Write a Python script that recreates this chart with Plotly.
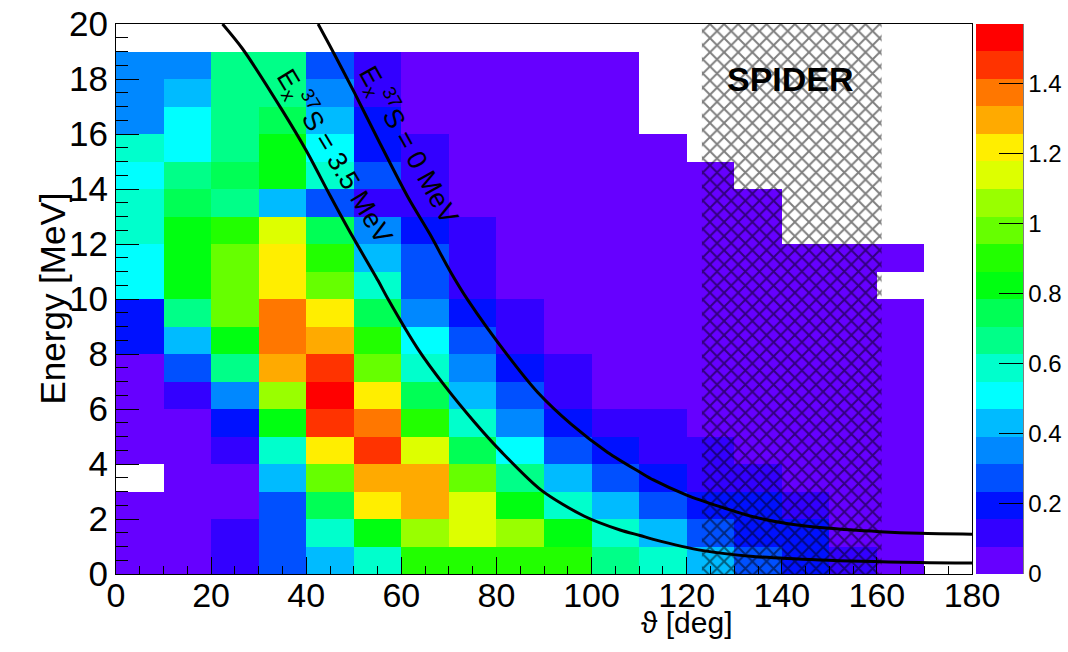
import plotly.graph_objects as go

# ---------------- data ----------------
theta_edges = [0, 10, 20, 30, 40, 50, 60, 70, 80, 90, 100, 110, 120, 130, 140, 150, 160, 170, 180]
energy_edges = [0, 1, 2, 3, 4, 5, 6, 7, 8, 9, 10, 11, 12, 13, 14, 15, 16, 17, 18, 19, 20]

# bin contents per theta bin, listed from E=0-1 MeV (bottom) to E=19-20 MeV (top); None = empty bin
th_000_010 = [0.04, 0.04, 0.04, None, 0.04, 0.04, 0.04, 0.04, 0.20, 0.20, 0.51, 0.51, 0.59, 0.59, 0.51, 0.59, 0.35, 0.35, 0.35, None]
th_010_020 = [0.04, 0.04, 0.04, 0.04, 0.04, 0.04, 0.12, 0.27, 0.43, 0.67, 0.82, 0.82, 0.82, 0.75, 0.67, 0.51, 0.51, 0.43, 0.35, None]
th_020_030 = [0.12, 0.12, 0.04, 0.04, 0.12, 0.20, 0.35, 0.67, 0.82, 0.98, 0.98, 0.98, 0.90, 0.67, 0.75, 0.67, 0.67, 0.67, 0.67, None]
th_030_040 = [0.27, 0.27, 0.27, 0.43, 0.59, 0.82, 1.06, 1.30, 1.37, 1.37, 1.22, 1.22, 1.14, 0.43, 0.82, 0.82, 0.75, 0.67, 0.67, None]
th_040_050 = [0.43, 0.59, 0.75, 0.98, 1.22, 1.45, 1.53, 1.45, 1.30, 1.22, 0.98, 0.90, 0.75, 0.27, 0.59, 0.51, 0.43, 0.35, 0.27, None]
th_050_060 = [0.59, 0.82, 1.22, 1.30, 1.45, 1.37, 1.22, 0.98, 0.90, 0.75, 0.59, 0.43, 0.35, 0.12, 0.27, 0.20, 0.20, 0.12, 0.12, None]
th_060_070 = [0.90, 1.06, 1.30, 1.30, 1.14, 0.90, 0.75, 0.59, 0.51, 0.35, 0.27, 0.27, 0.20, 0.12, 0.12, 0.12, 0.04, 0.04, 0.04, None]
th_070_080 = [0.90, 1.14, 1.14, 0.98, 0.75, 0.59, 0.43, 0.35, 0.27, 0.20, 0.12, 0.12, 0.12, 0.04, 0.04, 0.04, 0.04, 0.04, 0.04, None]
th_080_090 = [0.90, 1.06, 0.82, 0.67, 0.51, 0.35, 0.27, 0.20, 0.12, 0.12, 0.04, 0.04, 0.04, 0.04, 0.04, 0.04, 0.04, 0.04, 0.04, None]
th_090_100 = [0.90, 0.82, 0.59, 0.43, 0.27, 0.20, 0.12, 0.12, 0.04, 0.04, 0.04, 0.04, 0.04, 0.04, 0.04, 0.04, 0.04, 0.04, 0.04, None]
th_100_110 = [0.67, 0.59, 0.43, 0.27, 0.20, 0.12, 0.04, 0.04, 0.04, 0.04, 0.04, 0.04, 0.04, 0.04, 0.04, 0.04, 0.04, 0.04, 0.04, None]
th_110_120 = [0.59, 0.43, 0.27, 0.20, 0.12, 0.12, 0.04, 0.04, 0.04, 0.04, 0.04, 0.04, 0.04, 0.04, 0.04, 0.04, None, None, None, None]
th_120_130 = [0.43, 0.27, 0.20, 0.12, 0.12, 0.04, 0.04, 0.04, 0.04, 0.04, 0.04, 0.04, 0.04, 0.04, 0.04, None, None, None, None, None]
th_130_140 = [0.27, 0.20, 0.20, 0.12, 0.04, 0.04, 0.04, 0.04, 0.04, 0.04, 0.04, 0.04, 0.04, 0.04, None, None, None, None, None, None]
th_140_150 = [0.20, 0.20, 0.12, 0.04, 0.04, 0.04, 0.04, 0.04, 0.04, 0.04, 0.04, 0.04, None, None, None, None, None, None, None, None]
th_150_160 = [0.12, 0.04, 0.04, 0.04, 0.04, 0.04, 0.04, 0.04, 0.04, 0.04, 0.04, 0.04, None, None, None, None, None, None, None, None]
th_160_170 = [0.04, 0.04, 0.04, 0.04, 0.04, 0.04, 0.04, 0.04, 0.04, 0.04, None, 0.04, None, None, None, None, None, None, None, None]
th_170_180 = [None, None, None, None, None, None, None, None, None, None, None, None, None, None, None, None, None, None, None, None]

theta_columns = [th_000_010, th_010_020, th_020_030, th_030_040, th_040_050, th_050_060,
                 th_060_070, th_070_080, th_080_090, th_090_100, th_100_110, th_110_120,
                 th_120_130, th_130_140, th_140_150, th_150_160, th_160_170, th_170_180]

z_max = 1.571
cbar_ticks = [0, 0.2, 0.4, 0.6, 0.8, 1.0, 1.2, 1.4]
cbar_ticktext = ["0", "0.2", "0.4", "0.6", "0.8", "1", "1.2", "1.4"]

# 20-level rainbow palette (bottom to top)
palette = ["#6600ff", "#3300ff", "#0011ff", "#0050ff", "#0088ff", "#00bbff", "#00ffff",
           "#00ffcc", "#00ff88", "#00ff55", "#00ff11", "#22ff00", "#66ff00", "#99ff00",
           "#ddff00", "#ffee00", "#ffaa00", "#ff7700", "#ff3300", "#ff0000"]

# kinematic lines
kin0_theta = [42.5, 45.0, 50.0, 55.1, 61.4, 66.0, 70.2, 74.0, 82.4, 88.7, 95.7, 103.4, 110.2, 113.0, 120.0, 127.0, 134.0, 141.0, 150.0, 160.6, 169.0, 180.0]
kin0_energy = [20.0, 19.2, 17.55, 15.8, 13.7, 12.36, 11.03, 9.96, 7.94, 6.6, 5.45, 4.42, 3.7, 3.42, 2.87, 2.45, 2.08, 1.84, 1.66, 1.54, 1.48, 1.45]
kin35_theta = [22.4, 26.6, 35.0, 40.0, 44.9, 49.0, 55.1, 57.2, 63.5, 69.1, 75.4, 81.0, 89.4, 98.5, 106.0, 110.2, 113.0, 123.5, 134.0, 148.0, 169.0, 180.0]
kin35_energy = [20.0, 19.1, 16.85, 15.4, 13.8, 12.5, 10.67, 10.0, 8.18, 6.85, 5.52, 4.45, 3.05, 2.1, 1.6, 1.4, 1.26, 0.85, 0.64, 0.51, 0.42, 0.40]

spider_theta = [123.2, 161.0]
spider_energy = [0, 20]

# ---------------- figure ----------------
nrows = len(energy_edges) - 1
z = [[col[r] for col in theta_columns] for r in range(nrows)]

n = len(palette)
colorscale = []
for i, c in enumerate(palette):
    colorscale.append([i / n, c])
    colorscale.append([(i + 1) / n, c])

FONT = "Liberation Sans, Arial, Helvetica, sans-serif"
L, R, T, B = 116, 96, 24, 78
W, H = 1068, 652
PW = W - L - R
PH = H - T - B

fig = go.Figure()
fig.add_trace(go.Heatmap(
    x=theta_edges, y=energy_edges, z=z,
    zmin=0, zmax=z_max, colorscale=colorscale, hoverongaps=False,
    colorbar=dict(
        x=(976 - L) / PW, xanchor="left", xpad=0, ypad=0,
        y=0.5, yanchor="middle", len=1, lenmode="fraction",
        thickness=47, outlinewidth=0,
        tickvals=cbar_ticks, ticktext=cbar_ticktext,
        ticks="inside", ticklen=24, tickwidth=1, tickcolor="black",
        tickfont=dict(family=FONT, size=24, color="black"),
    ),
))

sx = [spider_theta[0], spider_theta[1], spider_theta[1], spider_theta[0], spider_theta[0]]
sy = [spider_energy[0], spider_energy[0], spider_energy[1], spider_energy[1], spider_energy[0]]
fig.add_trace(go.Scatter(
    x=sx, y=sy, mode="lines", fill="toself",
    fillcolor="rgba(0,0,0,0)", line=dict(width=0, color="rgba(0,0,0,0)"),
    fillpattern=dict(shape="x", fgcolor="black", bgcolor="rgba(0,0,0,0)", size=10, solidity=0.35),
    showlegend=False, hoverinfo="skip",
))

for tx, ty in [(kin0_theta, kin0_energy), (kin35_theta, kin35_energy)]:
    fig.add_trace(go.Scatter(
        x=tx, y=ty, mode="lines",
        line=dict(color="black", width=3, shape="spline", smoothing=0.8),
        showlegend=False, hoverinfo="skip",
    ))

fig.update_layout(
    width=W, height=H,
    margin=dict(l=L, r=R, t=T, b=B, autoexpand=False),
    paper_bgcolor="white", plot_bgcolor="white",
    font=dict(family=FONT, color="black"),
    showlegend=False,
    xaxis=dict(
        range=[0, 180], dtick=20, tick0=0,
        ticks="inside", ticklen=17, tickwidth=1, tickcolor="black",
        minor=dict(ticks="inside", ticklen=8, dtick=5, tickcolor="black", tickwidth=1),
        showline=True, linecolor="black", linewidth=1, mirror=True,
        showgrid=False, zeroline=False, automargin=False,
        ticklabelstandoff=-9,
        tickfont=dict(family=FONT, size=34, color="black"),
    ),
    yaxis=dict(
        range=[0, 20], dtick=2, tick0=0,
        ticks="inside", ticklen=23, tickwidth=1, tickcolor="black",
        minor=dict(ticks="inside", ticklen=12, dtick=0.5, tickcolor="black", tickwidth=1),
        showline=True, linecolor="black", linewidth=1, mirror=True,
        showgrid=False, zeroline=False, automargin=False,
        tickfont=dict(family=FONT, size=35, color="black"),
    ),
)

# colorbar axis line on the right
fig.add_shape(type="line", xref="paper", yref="paper",
              x0=(1023 - L) / PW, x1=(1023 - L) / PW, y0=0, y1=1,
              line=dict(color="black", width=1))

annotations = [
    dict(text="<b>SPIDER</b>", x=141.9, y=18.0, xref="x", yref="y", showarrow=False,
         font=dict(family=FONT, size=34, color="black")),
    dict(text="E<sub>x</sub><sup>37</sup>S = 3.5 MeV", x=46.0, y=15.2, xref="x", yref="y",
         showarrow=False, textangle=59, font=dict(family=FONT, size=27, color="black")),
    dict(text="E<sub>x</sub><sup>37</sup>S = 0 MeV", x=61.6, y=15.6, xref="x", yref="y",
         showarrow=False, textangle=61, font=dict(family=FONT, size=27, color="black")),
    dict(text="ϑ [deg]", x=(686 - L) / PW, y=(574 - 641) / PH, xref="paper", yref="paper",
         showarrow=False, font=dict(family=FONT, size=30, color="black")),
    dict(text="Energy [MeV]", x=(30 - L) / PW, y=0.5, xref="paper", yref="paper",
         showarrow=False, textangle=-90, font=dict(family=FONT, size=35, color="black")),
]
fig.update_layout(annotations=annotations)

fig.write_html("out.html")
